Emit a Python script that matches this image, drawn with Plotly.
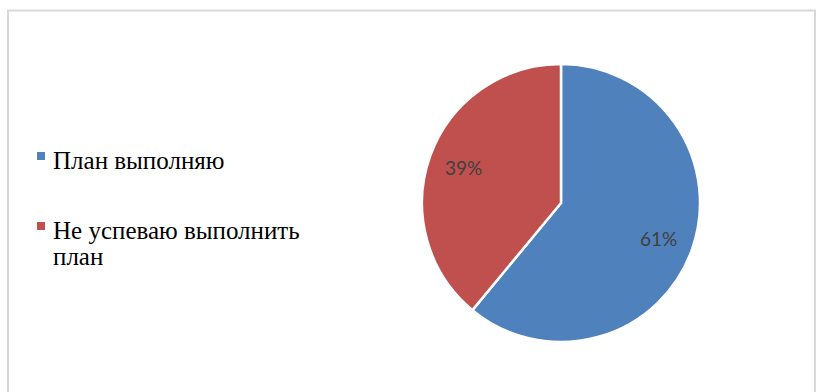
import math
import plotly.graph_objects as go

labels = ["План выполняю", "Не успеваю выполнить план"]
legend_lines = [["План выполняю"], ["Не успеваю выполнить", "план"]]
values = [61, 39]
colors = ["#4f81bd", "#c0504d"]

W, H = 816, 392
cx, cy, R = 561, 203, 139
dom_x = [(cx - R) / W, (cx + R) / W]
dom_y = [1 - (cy + R) / H, 1 - (cy - R) / H]

SERIF = "Liberation Serif, Times New Roman, serif"

fig = go.Figure()
fig.add_trace(go.Pie(
    labels=labels, values=values, sort=False, direction="clockwise", rotation=0,
    marker=dict(colors=colors, line=dict(color="white", width=2.5)),
    textinfo="none", hoverinfo="label+percent", showlegend=False,
    domain=dict(x=dom_x, y=dom_y),
))

# percentage labels placed at slice mid-angles
total = sum(values)
cum = 0
annotations = []
for v in values:
    mid = (cum + v / 2) / total * 2 * math.pi
    cum += v
    r = 0.745 * R
    px = cx + r * math.sin(mid)
    py = cy - r * math.cos(mid)
    annotations.append(dict(
        x=px / W, y=1 - py / H, xref="paper", yref="paper",
        text=f"{round(v / total * 100)}%", showarrow=False,
        font=dict(family="Lato", size=19, color="#404040"),
        xanchor="center", yanchor="middle",
    ))

# legend (left side): colour key squares + serif labels
shapes = [dict(
    type="rect", xref="paper", yref="paper",
    x0=8 / W, x1=815 / W, y0=-0.2, y1=1 - 10.5 / H,
    line=dict(color="#d9d9d9", width=2), layer="below",
)]
key_y = [156, 226]          # square centres (px from top)
line_y = [[160], [230.5, 256.5]]
text_x = 51
for c, ky, lines, ly in zip(colors, key_y, legend_lines, line_y):
    shapes.append(dict(
        type="rect", xref="paper", yref="paper",
        x0=37 / W, x1=45 / W, y0=1 - (ky + 4) / H, y1=1 - (ky - 4) / H,
        fillcolor=c, line=dict(width=0),
    ))
    for t, yy in zip(lines, ly):
        annotations.append(dict(
            x=text_x / W, y=1 - yy / H, xref="paper", yref="paper",
            text=t, showarrow=False, xanchor="left", yanchor="middle",
            font=dict(family=SERIF, size=25, color="black"),
        ))

fig.update_layout(
    width=W, height=H,
    margin=dict(l=0, r=0, t=0, b=0),
    paper_bgcolor="white", plot_bgcolor="white",
    showlegend=False,
    annotations=annotations,
    shapes=shapes,
)

fig.write_html("out.html")
